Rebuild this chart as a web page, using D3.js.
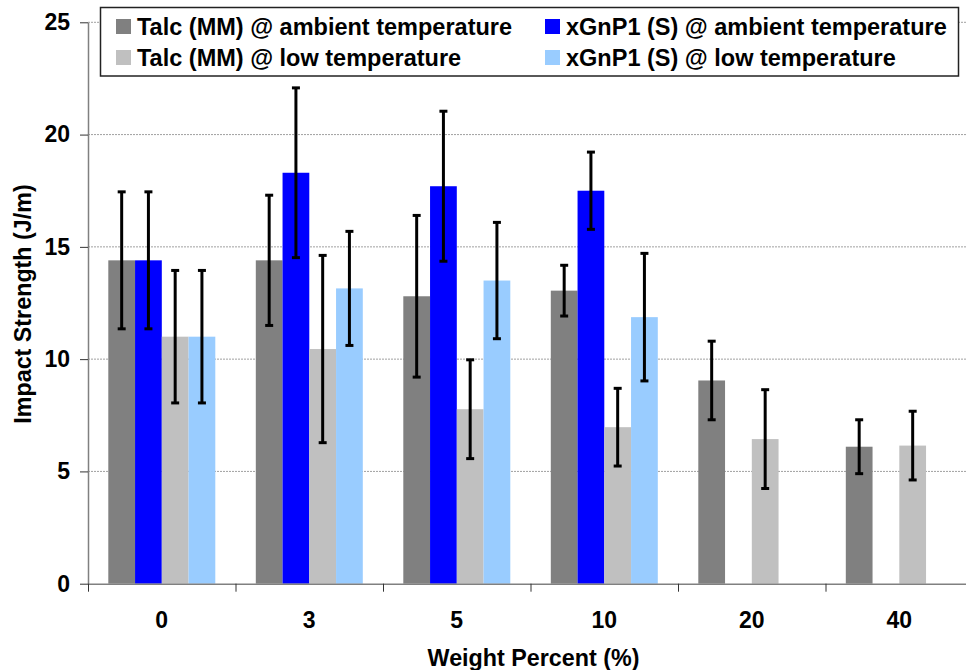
<!DOCTYPE html>
<html lang="en">
<head>
    <meta charset="UTF-8">
    <title>Impact Strength vs Weight Percent</title>
    <style>
        body { margin: 0; background: #fff; }
        svg { display: block; font-family: "Liberation Sans", Arial, sans-serif; font-weight: bold; }
    </style>
</head>
<body>

    <div id="d3-container"></div>

    <script src="https://d3js.org/d3.v7.min.js"></script>
    <script>
        // values
        const categories = ["0", "3", "5", "10", "20", "40"];
        const seriesNames = [
            "Talc (MM) @ ambient temperature",
            "xGnP1 (S) @ ambient temperature",
            "Talc (MM) @ low temperature",
            "xGnP1 (S) @ low temperature"
        ];
        const talcAmbient = [14.4, 14.4, 12.8, 13.05, 9.05, 6.1];
        const talcAmbientErr = [3.05, 2.9, 3.6, 1.13, 1.75, 1.2];
        const xgnpAmbient = [14.4, 18.3, 17.7, 17.5, null, null];
        const xgnpAmbientErr = [3.05, 3.78, 3.34, 1.72, null, null];
        const talcLow = [11.0, 10.45, 7.77, 6.97, 6.44, 6.15];
        const talcLowErr = [2.95, 4.17, 2.2, 1.73, 2.2, 1.53];
        const xgnpLow = [11.0, 13.15, 13.5, 11.87, null, null];
        const xgnpLowErr = [2.95, 2.54, 2.59, 2.84, null, null];
        const yTicks = [0, 5, 10, 15, 20, 25];

        const colors = ["#808080", "#0000ff", "#c0c0c0", "#99ccff"];
        const values = [talcAmbient, xgnpAmbient, talcLow, xgnpLow];
        const errors = [talcAmbientErr, xgnpAmbientErr, talcLowErr, xgnpLowErr];

        const width = 966;
        const height = 670;
        const plot = { left: 88, right: 973, top: 22.3, bottom: 583.7 };

        // flat table for the bars
        const data = [];
        categories.forEach((c, i) => {
            seriesNames.forEach((s, j) => {
                if (values[j][i] != null) {
                    data.push({ cat: c, series: s, idx: j, value: values[j][i], err: errors[j][i] });
                }
            });
        });

        const svg = d3.select('#d3-container')
            .append('svg')
            .attr('width', width)
            .attr('height', height);

        const x0 = d3.scaleBand()
            .domain(categories)
            .range([plot.left, plot.right]);

        const x1 = d3.scaleBand()
            .domain(seriesNames)
            .range([20.3, 127.3]);

        const y = d3.scaleLinear()
            .domain([0, 25])
            .range([plot.bottom, plot.top]);

        // gridlines
        svg.append('g')
            .selectAll('line')
            .data(yTicks.filter(d => d > 0))
            .join('line')
            .attr('x1', plot.left)
            .attr('x2', plot.right)
            .attr('y1', d => y(d))
            .attr('y2', d => y(d))
            .attr('stroke', '#a0a0a0')
            .attr('stroke-width', 1)
            .attr('stroke-dasharray', '2,1');

        // bars
        svg.append('g')
            .selectAll('rect')
            .data(data)
            .join('rect')
            .attr('x', d => x0(d.cat) + x1(d.series))
            .attr('y', d => y(d.value))
            .attr('width', x1.bandwidth())
            .attr('height', d => y(0) - y(d.value))
            .attr('fill', d => colors[d.idx]);

        // error bars
        const eb = svg.append('g')
            .attr('stroke', '#000')
            .attr('stroke-width', 3)
            .selectAll('g')
            .data(data)
            .join('g')
            .attr('transform', d => `translate(${x0(d.cat) + x1(d.series) + x1.bandwidth() / 2},0)`);
        eb.append('line')
            .attr('y1', d => y(d.value + d.err))
            .attr('y2', d => y(d.value - d.err));
        eb.append('line')
            .attr('x1', -4).attr('x2', 4)
            .attr('y1', d => y(d.value + d.err))
            .attr('y2', d => y(d.value + d.err));
        eb.append('line')
            .attr('x1', -4).attr('x2', 4)
            .attr('y1', d => y(d.value - d.err))
            .attr('y2', d => y(d.value - d.err));

        // y axis
        const yAxis = svg.append('g')
            .attr('transform', `translate(${plot.left},0)`)
            .call(d3.axisLeft(y).tickValues(yTicks).tickSize(8).tickSizeOuter(0).tickPadding(10))
            .attr('font-size', '23px')
            .attr('font-family', null);
        yAxis.select('.domain').attr('stroke', '#808080').attr('stroke-width', 1.5);
        yAxis.selectAll('.tick line').attr('stroke', '#333');
        yAxis.selectAll('.tick text').attr('fill', '#000');

        // x axis: labels centred, ticks on the category boundaries
        const xAxis = svg.append('g')
            .attr('transform', `translate(0,${plot.bottom})`)
            .call(d3.axisBottom(x0).tickSize(0).tickPadding(28))
            .attr('font-size', '23px')
            .attr('font-family', null);
        xAxis.select('.domain').attr('stroke', '#808080').attr('stroke-width', 1.5);
        xAxis.selectAll('.tick text').attr('fill', '#000');

        const xb = d3.scaleLinear().domain([0, categories.length]).range([plot.left, plot.right]);
        svg.append('g')
            .attr('transform', `translate(0,${plot.bottom})`)
            .call(d3.axisBottom(xb).tickValues(d3.range(categories.length + 1)).tickFormat('').tickSize(8).tickSizeOuter(0))
            .call(g => g.select('.domain').remove())
            .selectAll('.tick line').attr('stroke', '#333');

        // axis titles
        svg.append('text')
            .attr('x', (plot.left + plot.right) / 2 + 3)
            .attr('y', 666)
            .attr('text-anchor', 'middle')
            .attr('font-size', '23.3px')
            .text('Weight Percent (%)');

        svg.append('text')
            .attr('transform', 'translate(31,304) rotate(-90)')
            .attr('text-anchor', 'middle')
            .attr('font-size', '23.3px')
            .text('Impact Strength (J/m)');

        // legend
        const legend = svg.append('g');
        legend.append('rect')
            .attr('x', 100.5).attr('y', 7.5)
            .attr('width', 858).attr('height', 68.5)
            .attr('fill', '#fff')
            .attr('stroke', '#222')
            .attr('stroke-width', 1.5);

        const legendPos = [
            { x: 116, y: 19 },
            { x: 545, y: 19 },
            { x: 116, y: 50 },
            { x: 545, y: 50 }
        ];
        const items = legend.selectAll('g.item')
            .data(seriesNames)
            .join('g')
            .attr('class', 'item')
            .attr('transform', (d, i) => `translate(${legendPos[i].x},${legendPos[i].y})`);
        items.append('rect')
            .attr('width', 15).attr('height', 15)
            .attr('fill', (d, i) => colors[i]);
        items.append('text')
            .attr('x', 21)
            .attr('y', 15.5)
            .attr('font-size', '23.5px')
            .text(d => d);
    </script>

</body>
</html>
